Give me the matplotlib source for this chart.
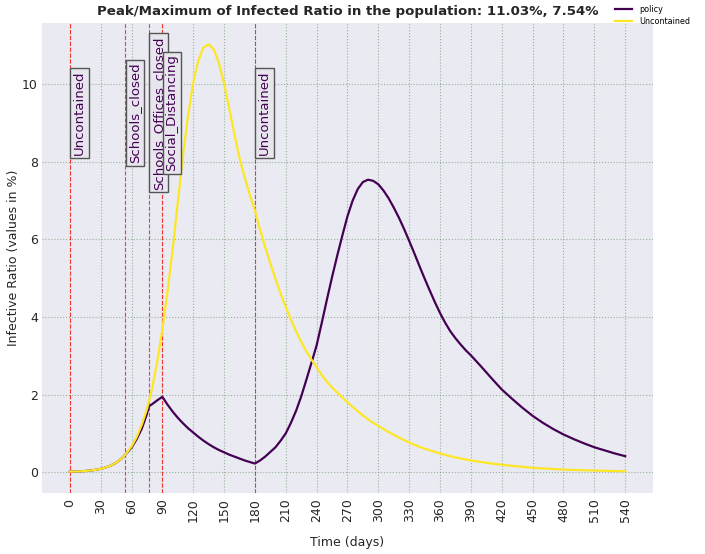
import matplotlib
matplotlib.use("Agg")
import matplotlib.pyplot as plt

# uncontained run (yellow)
uncont_days = [0, 5, 10, 15, 20, 25, 30, 35, 40, 45, 50, 54, 60, 65, 70, 75,
               77, 80, 85, 90, 95, 100, 105, 110, 115, 120, 125, 130, 135,
               140, 145, 150, 155, 160, 165, 170, 175, 180, 185, 190, 195,
               200, 205, 210, 215, 220, 225, 230, 235, 240, 245, 250, 255,
               260, 265, 270, 275, 280, 285, 290, 295, 300, 310, 320, 330,
               340, 350, 360, 370, 380, 390, 400, 410, 420, 430, 440, 450,
               460, 470, 480, 490, 500, 510, 520, 530, 540]
uncont_vals = [0.010, 0.014, 0.020, 0.028, 0.040, 0.058, 0.083, 0.12, 0.17,
               0.24, 0.34, 0.45, 0.66, 0.90, 1.22, 1.62, 1.83, 2.15, 2.85,
               3.68, 4.65, 5.75, 6.95, 8.15, 9.2, 10.05, 10.62, 10.95, 11.03,
               10.9, 10.55, 10.02, 9.37, 8.72, 8.1, 7.6, 7.15, 6.75, 6.25,
               5.8, 5.38, 4.98, 4.6, 4.25, 3.93, 3.63, 3.36, 3.11, 2.9, 2.7,
               2.5, 2.33, 2.18, 2.05, 1.92, 1.8, 1.68, 1.57, 1.46, 1.36, 1.27,
               1.19, 1.03, 0.89, 0.76, 0.65, 0.56, 0.48, 0.41, 0.35, 0.30,
               0.26, 0.22, 0.19, 0.16, 0.135, 0.11, 0.095, 0.08, 0.065, 0.055,
               0.047, 0.04, 0.033, 0.027, 0.022]

# run with the policy changes (purple)
policy_days = [0, 5, 10, 15, 20, 25, 30, 35, 40, 45, 50, 54, 60, 65, 70, 75,
               77, 80, 85, 90, 95, 100, 105, 110, 115, 120, 125, 130, 135,
               140, 145, 150, 155, 160, 165, 170, 175, 180, 185, 190, 195,
               200, 205, 210, 215, 220, 225, 230, 235, 240, 245, 250, 255,
               260, 265, 270, 275, 280, 285, 290, 295, 300, 305, 310, 315,
               320, 325, 330, 335, 340, 345, 350, 355, 360, 365, 370, 375,
               380, 385, 390, 400, 410, 420, 430, 440, 450, 460, 470, 480,
               490, 500, 510, 520, 530, 540]
policy_vals = [0.010, 0.014, 0.020, 0.028, 0.040, 0.058, 0.083, 0.12, 0.17,
               0.24, 0.34, 0.45, 0.63, 0.85, 1.12, 1.50, 1.70, 1.75, 1.85,
               1.94, 1.74, 1.56, 1.40, 1.26, 1.13, 1.02, 0.91, 0.81, 0.72,
               0.64, 0.57, 0.51, 0.45, 0.40, 0.35, 0.30, 0.26, 0.22, 0.30,
               0.40, 0.52, 0.64, 0.81, 1.0, 1.27, 1.58, 1.95, 2.38, 2.82,
               3.27, 3.85, 4.45, 5.03, 5.58, 6.1, 6.6, 7.0, 7.3, 7.48, 7.54,
               7.51, 7.42, 7.26, 7.06, 6.82, 6.56, 6.27, 5.96, 5.64, 5.31,
               4.99, 4.68, 4.38, 4.1, 3.85, 3.63, 3.45, 3.29, 3.14, 3.01,
               2.72, 2.42, 2.13, 1.89, 1.66, 1.45, 1.27, 1.11, 0.97, 0.85,
               0.74, 0.64, 0.56, 0.48, 0.41]

event_days = [0, 54, 77, 90, 180]
event_names = ["Uncontained", "Schools_closed", "Schools_Offices_closed",
               "Social_Distancing", "Uncontained"]
xticks = list(range(0, 541, 30))

PURPLE = "#440154"
YELLOW = "#fde725"

fig = plt.figure(figsize=(7.05, 5.54), dpi=100)
ax = fig.add_axes([0.0596, 0.110, 0.8666, 0.8485])
ax.set_facecolor("#eaeaf2")
for side in ax.spines.values():
    side.set_visible(False)

ax.plot(policy_days, policy_vals, color=PURPLE, linewidth=1.6, label="policy", zorder=3)
ax.plot(uncont_days, uncont_vals, color=YELLOW, linewidth=1.6, label="Uncontained", zorder=3)

ax.set_xticks(xticks)
ax.tick_params(axis="x", rotation=90, pad=4)
ax.tick_params(axis="y", pad=3)
ax.tick_params(length=0, labelsize=9, colors="#262626")
ax.grid(True, color="#5f8f5f", linestyle=":", linewidth=0.8, alpha=0.6)
ax.set_axisbelow(True)

text_y = 0.84 * max(uncont_vals)
for day, name in zip(event_days, event_names):
    ax.axvline(day, color="red", linestyle="--", linewidth=0.8, alpha=0.75, zorder=2)
    ax.text(day + 3, text_y, name, rotation=90, ha="left", va="center",
            fontsize=9.5, color=PURPLE, zorder=4,
            bbox=dict(boxstyle="square,pad=0.2", facecolor="#e6e6ec",
                      edgecolor="#555555", linewidth=1.0))

ax.set_xlabel("Time (days)", fontsize=9, labelpad=10, color="#262626")
ax.set_ylabel("Infective Ratio (values in %)", fontsize=9, labelpad=1.5, color="#262626")
ax.set_title("Peak/Maximum of Infected Ratio in the population: 11.03%, 7.54%",
             fontsize=9.6, fontweight="bold", color="#262626", pad=6)

fig.legend(loc="upper left", bbox_to_anchor=(0.865, 1.0), frameon=False,
           fontsize=5.8, handlelength=2.2, labelspacing=0.4, borderaxespad=0.2)

fig.savefig("out.png", dpi=100, facecolor="white")
